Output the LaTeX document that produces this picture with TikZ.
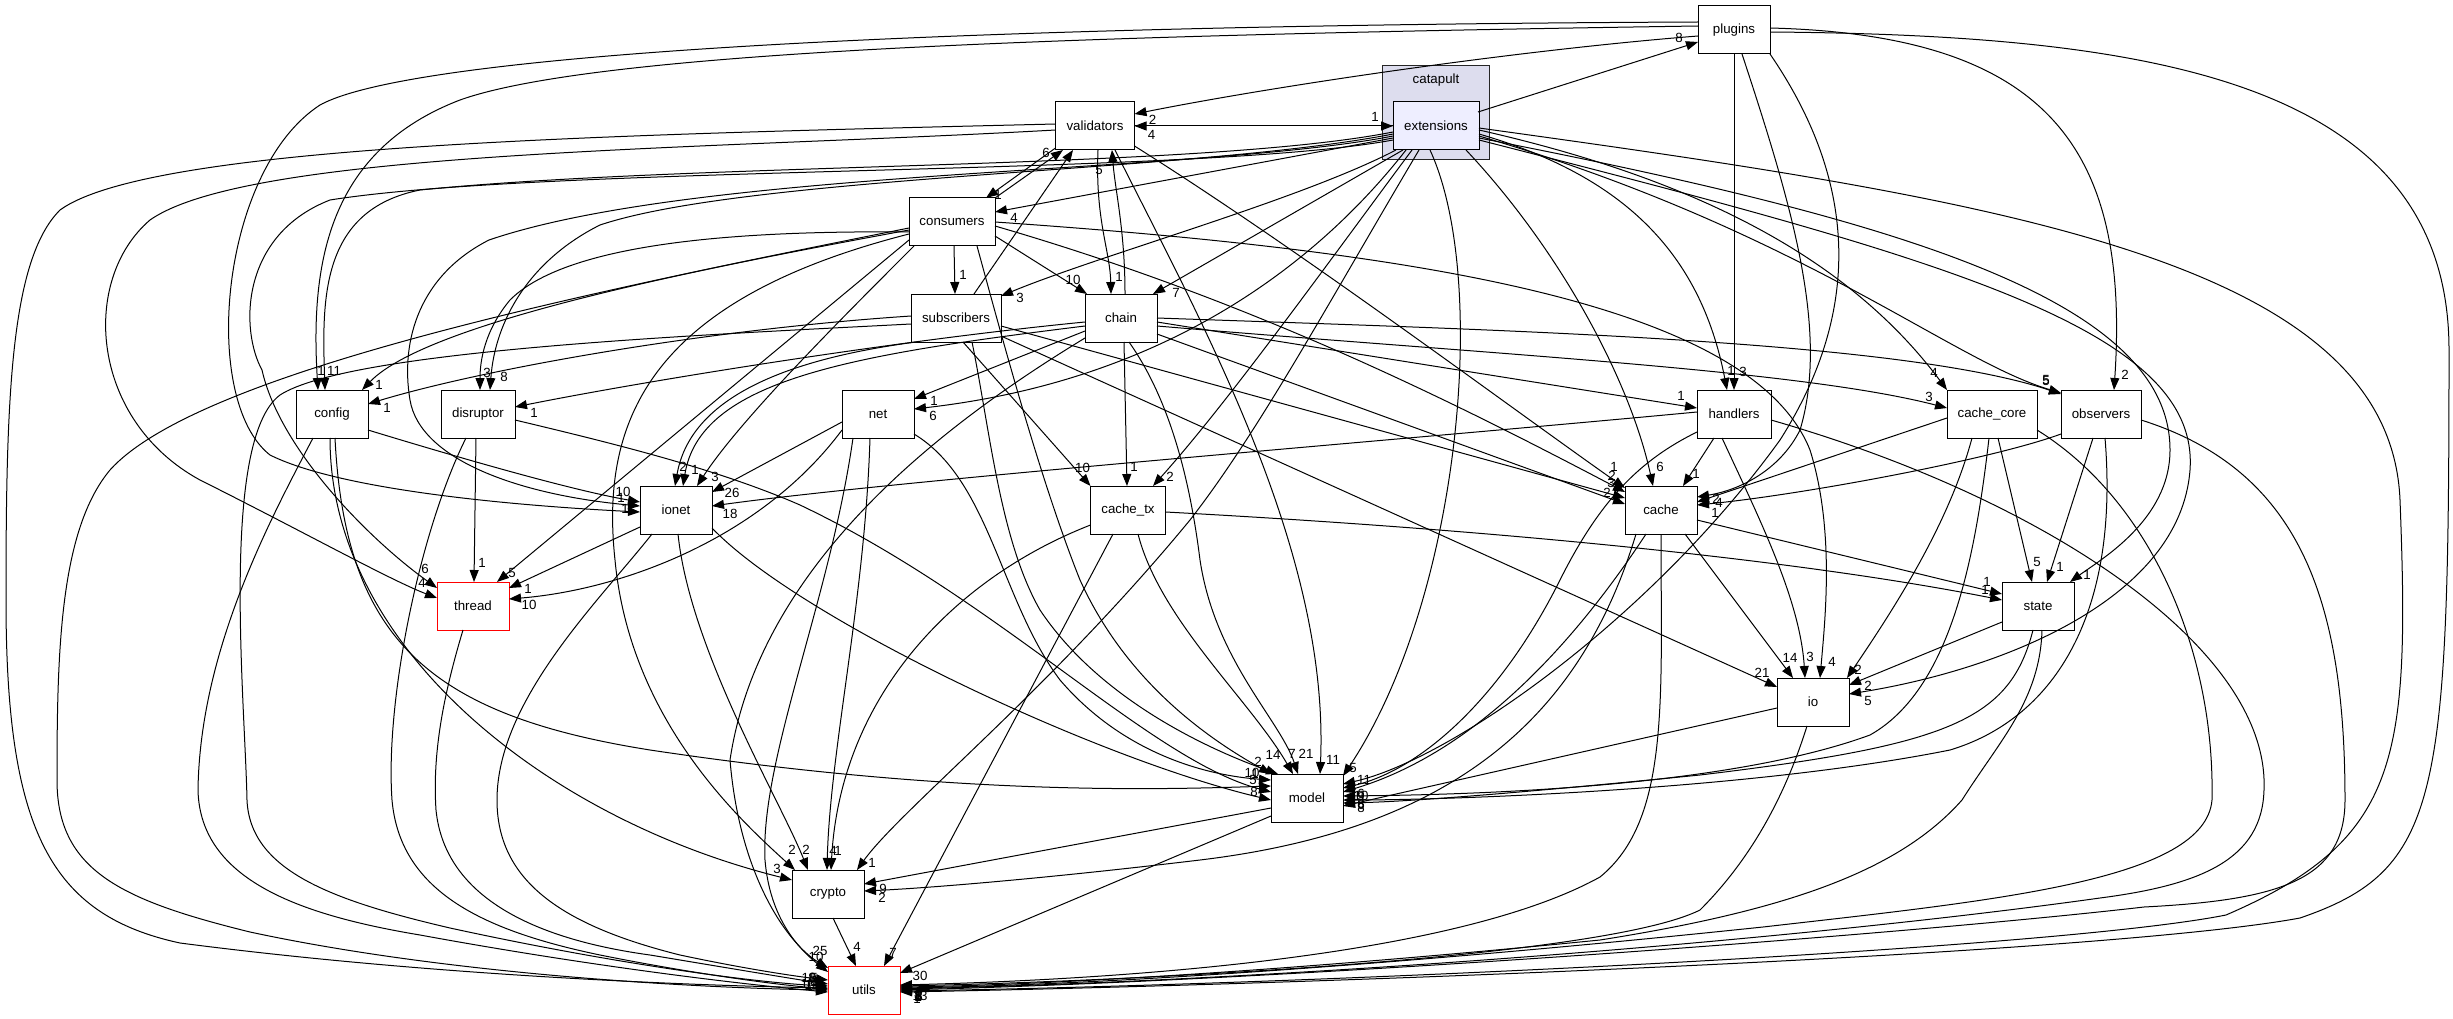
\documentclass[tikz,border=0pt]{standalone}
\usepackage{fontspec}
\setmainfont{Liberation Sans}
\usetikzlibrary{arrows.meta}
\definecolor{clfill}{HTML}{DDDDEE}
\definecolor{extfill}{HTML}{EEEEFF}
\newcommand\dgfont{\fontsize{13.3}{15}\selectfont}
\begin{document}
\begin{tikzpicture}[x=1pt,y=-1pt,
  dnode/.style={draw=black, line width=1pt, minimum height=48pt, inner sep=0pt, font=\dgfont, fill=white},
  rnode/.style={dnode, draw=red},
  dep/.style={line width=1pt, -{Triangle[length=12pt,width=9pt]}},
  hl/.style={font=\dgfont, inner sep=0pt}]
\useasboundingbox (0,0) rectangle (2453,1019);
\fill[white] (0,0) rectangle (2453,1019);
% cluster
\node[draw=black!85, line width=1pt, fill=clfill, minimum width=107pt, minimum height=94pt, inner sep=0pt] (catapult) at (1435.5,113) {};
\node[font=\dgfont] (catapulttitle) at (1436,80) {catapult};
% nodes
\node[dnode, fill=extfill, minimum width=86pt] (ext) at (1436,126) {extensions};
\node[dnode, minimum width=72pt] (pl) at (1734,30) {plugins};
\node[dnode, minimum width=79pt] (val) at (1095,126) {validators};
\node[dnode, minimum width=86pt] (con) at (952,222) {consumers};
\node[dnode, minimum width=90pt] (sub) at (956,318) {subscribers};
\node[dnode, minimum width=72pt] (chn) at (1121,318) {chain};
\node[dnode, minimum width=72pt] (cfg) at (332,414) {config};
\node[dnode, minimum width=74pt] (dis) at (478,414) {disruptor};
\node[dnode, minimum width=72pt] (net) at (878,414) {net};
\node[dnode, minimum width=74pt] (hnd) at (1734,414) {handlers};
\node[dnode, minimum width=90pt] (cco) at (1992,414) {cache\_core};
\node[dnode, minimum width=80pt] (obs) at (2101,414) {observers};
\node[dnode, minimum width=72pt] (ion) at (676,510) {ionet};
\node[dnode, minimum width=75pt] (ctx) at (1128,510) {cache\_tx};
\node[dnode, minimum width=72pt] (cac) at (1661,510) {cache};
\node[rnode, minimum width=72pt] (thr) at (473,606) {thread};
\node[dnode, minimum width=72pt] (sta) at (2038,606) {state};
\node[dnode, minimum width=72pt] (io) at (1813,702) {io};
\node[dnode, minimum width=72pt] (mod) at (1307,798) {model};
\node[dnode, minimum width=72pt] (cry) at (828,894) {crypto};
\node[rnode, minimum width=72pt] (uti) at (864,990) {utils};

% ---- extensions out
\draw[dep] ([shift={(42,-14)}]ext.center) -- ([shift={(-36,12)}]pl.center) node[hl,shift={(-19,-4)}]{8};
\draw[dep] ([shift={(-43,0)}]ext.center) -- ([shift={(39.5,0)}]val.center) node[hl,shift={(17,9)}]{4};
\draw[dep] ([shift={(39.5,0)}]val.center) -- ([shift={(-43,0)}]ext.center) node[hl,shift={(-18,-9)}]{1};
\draw[dep] ([shift={(-43,12)}]ext.center) -- ([shift={(43,-10)}]con.center) node[hl,shift={(19,6)}]{4};
\draw[dep] ([shift={(-40,24)}]ext.center) .. controls (1300,200) and (1100,255) .. ([shift={(45,-22)}]sub.center) node[hl,shift={(19,2)}]{3};
\draw[dep] ([shift={(-33,24)}]ext.center) -- ([shift={(32,-24)}]chn.center) node[hl,shift={(23,-1)}]{7};
\draw[dep] ([shift={(-43,6)}]ext.center) .. controls (1200,170) and (700,162) .. (420,190) .. controls (320,210) and (322,300) .. ([shift={(-7,-24)}]cfg.center) node[hl,shift={(9,-19)}]{11};
\draw[dep] ([shift={(-43,8)}]ext.center) .. controls (1200,172) and (750,175) .. (600,225) .. controls (530,260) and (495,320) .. ([shift={(12,-24)}]dis.center) node[hl,shift={(14,-13)}]{8};
\draw[dep] ([shift={(-43,10)}]ext.center) .. controls (1200,174) and (700,168) .. (489,240) .. controls (420,275) and (400,340) .. (410,400) .. controls (420,460) and (520,495) .. ([shift={(-36,-4)}]ion.center) node[hl,shift={(-19,-8)}]{1};
\draw[dep] ([shift={(-43,14)}]ext.center) .. controls (1200,176) and (550,165) .. (330,200) .. controls (240,235) and (240,330) .. (262,370) .. controls (280,450) and (370,540) .. ([shift={(-36,-18)}]thr.center) node[hl,shift={(-12,-19)}]{6};
\draw[dep] ([shift={(-30,24)}]ext.center) .. controls (1320,260) and (1170,380) .. ([shift={(36,-5)}]net.center) node[hl,shift={(19,7)}]{6};
\draw[dep] ([shift={(-24,24)}]ext.center) .. controls (1330,260) and (1230,400) .. ([shift={(25,-24)}]ctx.center) node[hl,shift={(17,-9)}]{2};
\draw[dep] ([shift={(-17,24)}]ext.center) .. controls (1330,300) and (1260,430) .. (1190,520) .. controls (1050,690) and (900,810) .. ([shift={(29,-24)}]cry.center) node[hl,shift={(15,-7)}]{1};
\draw[dep] ([shift={(-6,24)}]ext.center) .. controls (1490,280) and (1460,600) .. ([shift={(36,-22)}]mod.center) node[hl,shift={(10,-8)}]{5};
\draw[dep] ([shift={(30,24)}]ext.center) .. controls (1560,250) and (1630,380) .. ([shift={(-8,-24)}]cac.center) node[hl,shift={(7,-19)}]{6};
\draw[dep] ([shift={(43,8)}]ext.center) .. controls (1620,175) and (1700,250) .. ([shift={(-7,-24)}]hnd.center) node[hl,shift={(4,-19)}]{1};
\draw[dep] ([shift={(43,4)}]ext.center) .. controls (1700,180) and (1850,260) .. ([shift={(-45,-24)}]cco.center) node[hl,shift={(-13,-17)}]{4};
\draw[dep] ([shift={(43,10)}]ext.center) .. controls (1800,230) and (1950,360) .. ([shift={(-40,-21)}]obs.center) node[hl,shift={(-15,-13)}]{5};
\draw[dep] ([shift={(43,12)}]ext.center) .. controls (1900,220) and (2170,300) .. (2170,450) .. controls (2170,520) and (2100,560) .. ([shift={(32,-24)}]sta.center) node[hl,shift={(17,-7)}]{1};
\draw[dep] ([shift={(43,14)}]ext.center) .. controls (1950,260) and (2200,330) .. (2190,470) .. controls (2180,600) and (2000,670) .. ([shift={(36,-8)}]io.center) node[hl,shift={(19,7)}]{5};
\draw[dep] ([shift={(43,2)}]ext.center) .. controls (2000,200) and (2390,260) .. (2400,500) .. controls (2410,760) and (2400,840) .. (2226,915) .. controls (2050,950) and (1300,985) .. ([shift={(36,1)}]uti.center) node[hl,shift={(19,6)}]{3};

% ---- plugins out
\draw[dep] ([shift={(-36,6)}]pl.center) .. controls (1520,50) and (1280,85) .. ([shift={(39.5,-12)}]val.center) node[hl,shift={(18,6)}]{2};
\draw[dep] ([shift={(-36,-4)}]pl.center) .. controls (1100,35) and (600,50) .. (460,100) .. controls (330,150) and (310,260) .. ([shift={(-14,-24)}]cfg.center) node[hl,shift={(3,-19)}]{1};
\draw[dep] ([shift={(-36,-8)}]pl.center) .. controls (1000,25) and (420,50) .. (320,105) .. controls (220,170) and (200,400) .. (270,455) .. controls (350,495) and (560,508) .. ([shift={(-36,2)}]ion.center) node[hl,shift={(-15,-3)}]{1};
\draw[dep] ([shift={(0,24)}]pl.center) -- ([shift={(0,-24)}]hnd.center) node[hl,shift={(9,-18)}]{3};
\draw[dep] ([shift={(36,-2)}]pl.center) .. controls (2050,35) and (2130,150) .. ([shift={(13,-24)}]obs.center) node[hl,shift={(11,-15)}]{2};
\draw[dep] ([shift={(8,24)}]pl.center) .. controls (1790,200) and (1830,330) .. (1800,430) .. controls (1780,470) and (1740,490) .. ([shift={(36,-13)}]cac.center) node[hl,shift={(19,2)}]{2};
\draw[dep] ([shift={(36,24)}]pl.center) .. controls (1870,200) and (1850,330) .. (1780,440) .. controls (1650,620) and (1450,760) .. ([shift={(36,-14)}]mod.center) node[hl,shift={(21,-4)}]{11};
\draw[dep] ([shift={(36,2)}]pl.center) .. controls (2150,35) and (2449,80) .. (2449,350) .. controls (2449,800) and (2440,870) .. (2300,918) .. controls (2100,955) and (1300,985) .. ([shift={(36,2)}]uti.center) node[hl,shift={(17,7)}]{1};

% ---- validators in/out
\draw[dep] ([shift={(3,24)}]val.center) .. controls (1095,220) and (1110,250) .. ([shift={(-10,-24)}]chn.center) node[hl,shift={(8,-17)}]{1};
\draw[dep] ([shift={(4,-24)}]chn.center) .. controls (1125,230) and (1115,190) .. ([shift={(17,24)}]val.center) node[hl,shift={(-13,20)}]{5};
\draw[dep] ([shift={(43,-24)}]con.center) -- ([shift={(-32,24)}]val.center) node[hl,shift={(-17,3)}]{6};
\draw[dep] ([shift={(18,-24)}]sub.center) -- ([shift={(-22,24)}]val.center);
\draw[dep] ([shift={(-39.5,22)}]val.center) -- ([shift={(34,-24)}]con.center) node[hl,shift={(12,-3)}]{1};
\draw[dep] ([shift={(-39.5,4)}]val.center) .. controls (700,150) and (250,150) .. (150,220) .. controls (80,280) and (90,420) .. (200,480) .. controls (300,530) and (390,580) .. ([shift={(-36,-8)}]thr.center) node[hl,shift={(-15,-15)}]{4};
\draw[dep] ([shift={(-39.5,-2)}]val.center) .. controls (600,135) and (150,145) .. (60,210) .. controls (10,260) and (6,400) .. (6,600) .. controls (6,830) and (50,915) .. (180,943) .. controls (450,978) and (720,986) .. ([shift={(-36,-2)}]uti.center) node[hl,shift={(-19,-10)}]{10};
\draw[dep] ([shift={(39.5,20)}]val.center) .. controls (1300,250) and (1500,400) .. ([shift={(-36,-22)}]cac.center) node[hl,shift={(-11,-21)}]{1};
\draw[dep] ([shift={(20,24)}]val.center) .. controls (1200,320) and (1330,550) .. ([shift={(13,-24)}]mod.center) node[hl,shift={(13,-14)}]{11};

% ---- consumers out
\draw[dep] ([shift={(2,24)}]con.center) -- ([shift={(-1,-24)}]sub.center) node[hl,shift={(8,-19)}]{1};
\draw[dep] ([shift={(43,14)}]con.center) -- ([shift={(-34,-24)}]chn.center) node[hl,shift={(-14,-14)}]{10};
\draw[dep] ([shift={(-43,8)}]con.center) .. controls (720,265) and (430,320) .. ([shift={(30,-24)}]cfg.center) node[hl,shift={(17,-5)}]{1};
\draw[dep] ([shift={(-43,10)}]con.center) .. controls (700,230) and (560,250) .. (510,300) .. controls (485,330) and (480,360) .. ([shift={(2,-24)}]dis.center) node[hl,shift={(7,-17)}]{3};
\draw[dep] ([shift={(-38,24)}]con.center) .. controls (840,320) and (740,420) .. ([shift={(21,-24)}]ion.center) node[hl,shift={(18,-9)}]{3};
\draw[dep] ([shift={(-43,18)}]con.center) -- ([shift={(24,-24)}]thr.center) node[hl,shift={(15,-9)}]{5};
\draw[dep] ([shift={(-43,12)}]con.center) .. controls (650,300) and (600,420) .. (615,560) .. controls (630,720) and (740,820) .. ([shift={(-33,-24)}]cry.center) node[hl,shift={(-3,-20)}]{2};
\draw[dep] ([shift={(-43,6)}]con.center) .. controls (600,290) and (200,370) .. (110,470) .. controls (60,530) and (57,650) .. (57,780) .. controls (57,870) and (120,900) .. (250,932) .. controls (450,975) and (700,988) .. ([shift={(-36,0)}]uti.center) node[hl,shift={(-20,-6)}]{16};
\draw[dep] ([shift={(25,24)}]con.center) .. controls (1000,330) and (1040,480) .. (1080,580) .. controls (1130,690) and (1220,745) .. ([shift={(-36,-24)}]mod.center) node[hl,shift={(-13,-12)}]{2};
\draw[dep] ([shift={(43,0)}]con.center) .. controls (1400,250) and (1750,300) .. (1810,450) .. controls (1835,530) and (1825,620) .. ([shift={(7,-24)}]io.center) node[hl,shift={(12,-16)}]{4};
\draw[dep] ([shift={(43,4)}]con.center) .. controls (1250,300) and (1450,400) .. ([shift={(-36,-18)}]cac.center) node[hl,shift={(-13,-16)}]{2};

% ---- subscribers out
\draw[dep] ([shift={(-45,-2)}]sub.center) .. controls (700,330) and (480,370) .. ([shift={(36,-10)}]cfg.center) node[hl,shift={(19,4)}]{1};
\draw[dep] ([shift={(-40,24)}]sub.center) .. controls (780,360) and (690,400) .. ([shift={(-1,-24)}]ion.center) node[hl,shift={(8,-19)}]{2};
\draw[dep] ([shift={(7,24)}]sub.center) -- ([shift={(-37.5,-24)}]ctx.center) node[hl,shift={(-8,-18)}]{10};
\draw[dep] ([shift={(45,8)}]sub.center) -- ([shift={(-36,-12)}]cac.center) node[hl,shift={(-14,-15)}]{3};
\draw[dep] ([shift={(45,18)}]sub.center) -- ([shift={(-36,-15)}]io.center) node[hl,shift={(-15,-14)}]{21};
\draw[dep] ([shift={(16,24)}]sub.center) .. controls (990,430) and (1000,540) .. (1040,610) .. controls (1100,700) and (1210,750) .. ([shift={(-29,-24)}]mod.center) node[hl,shift={(-5,-19)}]{14};
\draw[dep] ([shift={(-45,6)}]sub.center) .. controls (700,335) and (350,350) .. (280,395) .. controls (220,440) and (245,700) .. (247,800) .. controls (250,870) and (330,900) .. (450,928) .. controls (620,965) and (760,983) .. ([shift={(-36,-4)}]uti.center) node[hl,shift={(-16,-1)}]{13};

% ---- chain out
\draw[dep] ([shift={(3,24)}]chn.center) -- ([shift={(-1,-24)}]ctx.center) node[hl,shift={(7,-19)}]{1};
\draw[dep] ([shift={(-36,13)}]chn.center) -- ([shift={(36,-15)}]net.center) node[hl,shift={(20,2)}]{1};
\draw[dep] ([shift={(-36,4)}]chn.center) .. controls (900,340) and (650,380) .. ([shift={(37,-7)}]dis.center) node[hl,shift={(19,6)}]{1};
\draw[dep] ([shift={(-36,8)}]chn.center) .. controls (850,355) and (700,380) .. ([shift={(7,-24)}]ion.center) node[hl,shift={(12,-16)}]{1};
\draw[dep] ([shift={(-36,20)}]chn.center) .. controls (950,420) and (760,560) .. (730,760) .. controls (740,880) and (790,945) .. ([shift={(-36,-22)}]uti.center) node[hl,shift={(-12,-11)}]{10};
\draw[dep] ([shift={(8,24)}]chn.center) .. controls (1170,400) and (1190,480) .. (1200,560) .. controls (1215,660) and (1280,720) .. ([shift={(-9,-24)}]mod.center) node[hl,shift={(8,-20)}]{21};
\draw[dep] ([shift={(36,16)}]chn.center) -- ([shift={(-36,-6)}]cac.center) node[hl,shift={(-18,-11)}]{2};
\draw[dep] ([shift={(36,4)}]chn.center) -- ([shift={(-37,-6)}]hnd.center) node[hl,shift={(-16,-12)}]{1};
\draw[dep] ([shift={(36,8)}]chn.center) .. controls (1500,355) and (1800,370) .. ([shift={(-45,-6)}]cco.center) node[hl,shift={(-18,-11)}]{3};
\draw[dep] ([shift={(36,0)}]chn.center) .. controls (1500,330) and (1900,340) .. ([shift={(-40,-20)}]obs.center) node[hl,shift={(-15,-13)}]{5};

% ---- config out
\draw[dep] ([shift={(36,16)}]cfg.center) .. controls (450,455) and (570,490) .. ([shift={(-36,-8)}]ion.center) node[hl,shift={(-17,-10)}]{10};
\draw[dep] ([shift={(-2,24)}]cfg.center) .. controls (330,650) and (550,820) .. ([shift={(-36,-14)}]cry.center) node[hl,shift={(-15,-11)}]{3};
\draw[dep] ([shift={(3,24)}]cfg.center) .. controls (345,640) and (430,715) .. (650,750) .. controls (950,795) and (1150,790) .. ([shift={(-36,-12)}]mod.center) node[hl,shift={(-16,-12)}]{1};
\draw[dep] ([shift={(-19,24)}]cfg.center) .. controls (270,520) and (200,650) .. (198,790) .. controls (200,880) and (300,915) .. (420,935) .. controls (600,968) and (750,985) .. ([shift={(-36,2)}]uti.center) node[hl,shift={(-14,-7)}]{9};

% ---- disruptor out
\draw[dep] ([shift={(-2,24)}]dis.center) -- ([shift={(1,-24)}]thr.center) node[hl,shift={(8,-19)}]{1};
\draw[dep] ([shift={(-12,24)}]dis.center) .. controls (420,530) and (385,700) .. (392,800) .. controls (400,890) and (480,930) .. (600,955) .. controls (700,975) and (780,985) .. ([shift={(-36,-1)}]uti.center) node[hl,shift={(-13,-8)}]{1};
\draw[dep] ([shift={(37,6)}]dis.center) .. controls (620,445) and (720,470) .. (800,505) .. controls (1000,600) and (1150,760) .. ([shift={(-36,-6)}]mod.center) node[hl,shift={(-18,-12)}]{5};

% ---- net out
\draw[dep] ([shift={(-36,8)}]net.center) -- ([shift={(36,-18)}]ion.center) node[hl,shift={(20,1)}]{26};
\draw[dep] ([shift={(-36,16)}]net.center) .. controls (760,540) and (620,590) .. ([shift={(36,-7)}]thr.center) node[hl,shift={(20,6)}]{10};
\draw[dep] ([shift={(-8,24)}]net.center) .. controls (865,600) and (830,750) .. ([shift={(-1,-24)}]cry.center) node[hl,shift={(6,-19)}]{4};
\draw[dep] ([shift={(-25,24)}]net.center) .. controls (830,600) and (760,760) .. (765,860) .. controls (770,920) and (800,950) .. ([shift={(-36,-18)}]uti.center) node[hl,shift={(-8,-21)}]{25};
\draw[dep] ([shift={(36,20)}]net.center) .. controls (990,480) and (1000,600) .. (1060,680) .. controls (1120,750) and (1200,775) .. ([shift={(-36,-18)}]mod.center) node[hl,shift={(-19,-7)}]{10};

% ---- ionet out
\draw[dep] ([shift={(-36,17)}]ion.center) -- ([shift={(36,-18)}]thr.center) node[hl,shift={(19,1)}]{1};
\draw[dep] ([shift={(2,24)}]ion.center) .. controls (690,650) and (780,800) .. ([shift={(-20,-24)}]cry.center) node[hl,shift={(-2,-20)}]{2};
\draw[dep] ([shift={(36,18)}]ion.center) .. controls (800,620) and (1100,760) .. ([shift={(-36,2)}]mod.center) node[hl,shift={(-17,-8)}]{8};
\draw[dep] ([shift={(-24,24)}]ion.center) .. controls (600,600) and (497,700) .. (497,800) .. controls (497,880) and (560,925) .. (680,955) .. controls (760,972) and (810,978) .. ([shift={(-36,-10)}]uti.center) node[hl,shift={(-14,-2)}]{5};

% ---- thread out
\draw[dep] ([shift={(-10,24)}]thr.center) .. controls (445,690) and (432,750) .. (436,810) .. controls (445,900) and (540,940) .. (650,955) .. controls (740,970) and (800,980) .. ([shift={(-36,-6)}]uti.center) node[hl,shift={(-16,-6)}]{8};

% ---- cache_tx out
\draw[dep] ([shift={(37.5,2)}]ctx.center) .. controls (1500,530) and (1800,560) .. ([shift={(-36,-6)}]sta.center) node[hl,shift={(-17,-10)}]{1};
\draw[dep] ([shift={(-37.5,15)}]ctx.center) .. controls (950,580) and (840,700) .. ([shift={(3,-24)}]cry.center) node[hl,shift={(7,-19)}]{1};
\draw[dep] ([shift={(10,24)}]ctx.center) .. controls (1160,620) and (1250,700) .. ([shift={(-14,-24)}]mod.center) node[hl,shift={(-1,-20)}]{7};
\draw[dep] ([shift={(-15,24)}]ctx.center) -- ([shift={(20,-24)}]uti.center) node[hl,shift={(9,-13)}]{7};

% ---- handlers out
\draw[dep] ([shift={(-37,-2)}]hnd.center) .. controls (1400,440) and (900,480) .. ([shift={(36,-4)}]ion.center) node[hl,shift={(18,8)}]{18};
\draw[dep] ([shift={(-20,24)}]hnd.center) -- ([shift={(22,-24)}]cac.center) node[hl,shift={(13,-12)}]{1};
\draw[dep] ([shift={(-12,24)}]hnd.center) .. controls (1760,520) and (1800,600) .. ([shift={(-8,-24)}]io.center) node[hl,shift={(5,-21)}]{3};
\draw[dep] ([shift={(-37,18)}]hnd.center) .. controls (1640,460) and (1600,500) .. (1560,580) .. controls (1500,700) and (1420,770) .. ([shift={(36,-10)}]mod.center) node[hl,shift={(18,6)}]{6};
\draw[dep] ([shift={(37,6)}]hnd.center) .. controls (2050,500) and (2270,650) .. (2264,790) .. controls (2262,860) and (2200,885) .. (2100,898) .. controls (1800,940) and (1300,980) .. ([shift={(36,-1)}]uti.center) node[hl,shift={(18,7)}]{8};

% ---- cache_core out
\draw[dep] ([shift={(-45,4)}]cco.center) -- ([shift={(36,-8)}]cac.center) node[hl,shift={(22,1)}]{4};
\draw[dep] ([shift={(6,24)}]cco.center) -- ([shift={(-6,-24)}]sta.center) node[hl,shift={(5,-20)}]{5};
\draw[dep] ([shift={(-20,24)}]cco.center) .. controls (1950,520) and (1900,600) .. ([shift={(34,-24)}]io.center) node[hl,shift={(11,-8)}]{2};
\draw[dep] ([shift={(-3,24)}]cco.center) .. controls (1975,560) and (1950,690) .. (1870,735) .. controls (1720,790) and (1450,795) .. ([shift={(36,-2)}]mod.center) node[hl,shift={(18,0)}]{10};
\draw[dep] ([shift={(45,16)}]cco.center) .. controls (2150,500) and (2215,650) .. (2212,800) .. controls (2205,880) and (2000,900) .. (1763,927) .. controls (1400,965) and (1100,985) .. ([shift={(36,-2)}]uti.center) node[hl,shift={(20,8)}]{13};

% ---- observers out
\draw[dep] ([shift={(-40,20)}]obs.center) .. controls (1990,460) and (1800,495) .. ([shift={(36,-5)}]cac.center) node[hl,shift={(18,8)}]{1};
\draw[dep] ([shift={(-8,24)}]obs.center) -- ([shift={(9,-24)}]sta.center) node[hl,shift={(13,-15)}]{1};
\draw[dep] ([shift={(4,24)}]obs.center) .. controls (2120,620) and (2050,720) .. (1950,750) .. controls (1750,790) and (1450,800) .. ([shift={(36,2)}]mod.center) node[hl,shift={(18,4)}]{8};
\draw[dep] ([shift={(40,6)}]obs.center) .. controls (2300,470) and (2345,600) .. (2345,800) .. controls (2345,880) and (2280,900) .. (2144,907) .. controls (1900,935) and (1300,980) .. ([shift={(36,0)}]uti.center) node[hl,shift={(18,7)}]{1};

% ---- cache out
\draw[dep] ([shift={(36,10)}]cac.center) -- ([shift={(-36,-12)}]sta.center) node[hl,shift={(-15,-12)}]{1};
\draw[dep] ([shift={(24,24)}]cac.center) -- ([shift={(-20,-24)}]io.center) node[hl,shift={(-3,-20)}]{14};
\draw[dep] ([shift={(-25,24)}]cac.center) .. controls (1580,720) and (1450,830) .. (1200,860) .. controls (1050,878) and (930,888) .. ([shift={(36,-3)}]cry.center) node[hl,shift={(18,7)}]{2};
\draw[dep] ([shift={(-15,24)}]cac.center) .. controls (1550,680) and (1450,760) .. ([shift={(36,-6)}]mod.center) node[hl,shift={(18,4)}]{9};
\draw[dep] ([shift={(0,24)}]cac.center) .. controls (1661,700) and (1670,820) .. (1600,877) .. controls (1450,960) and (1100,980) .. ([shift={(36,-5)}]uti.center) node[hl,shift={(18,10)}]{3};

% ---- state out
\draw[dep] ([shift={(-36,16)}]sta.center) -- ([shift={(36,-17)}]io.center) node[hl,shift={(19,1)}]{2};
\draw[dep] ([shift={(-5,24)}]sta.center) .. controls (2010,720) and (1950,745) .. (1700,775) .. controls (1500,795) and (1400,802) .. ([shift={(36,5)}]mod.center) node[hl,shift={(18,2)}]{6};
\draw[dep] ([shift={(4,24)}]sta.center) .. controls (2040,700) and (2000,740) .. (1962,800) .. controls (1900,870) and (1790,910) .. (1600,940) .. controls (1300,970) and (1050,985) .. ([shift={(36,-3)}]uti.center) node[hl,shift={(19,9)}]{3};

% ---- io out
\draw[dep] ([shift={(-36,6)}]io.center) -- ([shift={(36,8)}]mod.center) node[hl,shift={(18,2)}]{8};
\draw[dep] ([shift={(-6,24)}]io.center) .. controls (1790,780) and (1760,850) .. (1700,910) .. controls (1600,960) and (1100,982) .. ([shift={(36,-4)}]uti.center) node[hl,shift={(18,10)}]{1};

% ---- model, crypto out
\draw[dep] ([shift={(-36,10)}]mod.center) -- ([shift={(36,-10)}]cry.center) node[hl,shift={(19,5)}]{9};
\draw[dep] ([shift={(-36,18)}]mod.center) -- ([shift={(36,-17)}]uti.center) node[hl,shift={(20,3)}]{30};
\draw[dep] ([shift={(5,24)}]cry.center) -- ([shift={(-8,-24)}]uti.center) node[hl,shift={(1,-19)}]{4};
\end{tikzpicture}
\end{document}
